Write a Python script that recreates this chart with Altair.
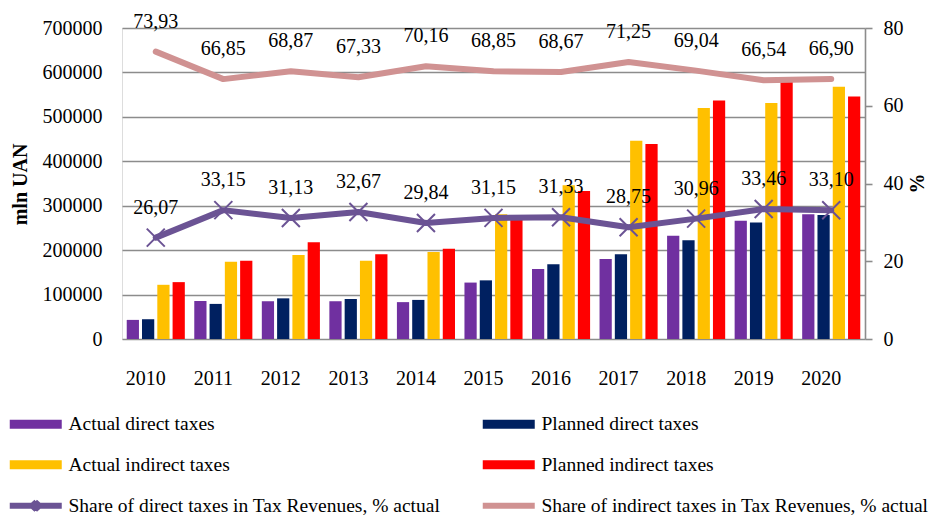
import altair as alt
import pandas as pd

years = ["2010", "2011", "2012", "2013", "2014", "2015", "2016", "2017", "2018", "2019", "2020"]
actual_direct = [43000, 85500, 85000, 85000, 83000, 127000, 157500, 180000, 232500, 266000, 281000]
planned_direct = [44500, 79000, 91500, 90000, 88000, 132000, 168000, 191000, 222000, 262500, 279000]
actual_indirect = [122000, 174000, 189000, 176000, 196000, 281000, 346000, 446000, 520000, 531000, 568000]
planned_indirect = [128000, 176000, 218000, 191000, 203000, 272000, 333000, 439000, 537000, 579000, 546000]
share_direct = [26.07, 33.15, 31.13, 32.67, 29.84, 31.15, 31.33, 28.75, 30.96, 33.46, 33.10]
share_indirect = [73.93, 66.85, 68.87, 67.33, 70.16, 68.85, 68.67, 71.25, 69.04, 66.54, 66.90]

bar_series = ["Actual direct taxes", "Planned direct taxes", "Actual indirect taxes", "Planned indirect taxes"]
line_series = ["Share of direct taxes in Tax Revenues, % actual",
               "Share of indirect taxes in Tax Revenues, % actual"]
all_series = bar_series + line_series

bar_colors = ["#7030A0", "#002060", "#FFC000", "#FF0000"]
line_colors = ["#6B5394", "#D09292"]

FONT = "Liberation Serif"

bars_df = pd.DataFrame(
    [(y, s, v) for s, vals in zip(bar_series, [actual_direct, planned_direct, actual_indirect, planned_indirect])
     for y, v in zip(years, vals)],
    columns=["year", "series", "value"])
lines_df = pd.DataFrame(
    [(y, s, v) for s, vals in zip(line_series, [share_direct, share_indirect])
     for y, v in zip(years, vals)],
    columns=["year", "series", "value"])
legend_df = pd.DataFrame({"series": all_series})

# legend symbol paths (unit = 5 px)
rect_path = "M-1,-0.9H9.4V0.9H-1Z"
direct_path = "M-1,0H9.4M3.5,-0.8L4.9,0.8M3.5,0.8L4.9,-0.8"
indirect_path = "M-1,0H9.4"

fill_scale = alt.Scale(domain=all_series, range=bar_colors + ["transparent", "transparent"])
stroke_scale = alt.Scale(domain=all_series, range=["transparent"] * 4 + line_colors)
shape_scale = alt.Scale(domain=all_series, range=[rect_path] * 4 + [direct_path, indirect_path])


def legend_cfg():
    return alt.Legend(orient="none", legendX=-117, legendY=386, columns=2, columnPadding=29,
                      direction="horizontal", rowPadding=7, symbolSize=100, symbolStrokeWidth=6,
                      labelFont=FONT, labelFontSize=19.5, labelColor="black", labelOffset=44,
                      title=None, labelLimit=600)


def x_enc():
    return alt.X("year:N", sort=years,
                 scale=alt.Scale(paddingInner=0.14, paddingOuter=0.07),
                 axis=alt.Axis(title=None, domain=False, ticks=False, labelFont=FONT, labelFontSize=20,
                               labelColor="black", labelPadding=29, labelOffset=-10, labelAngle=0))


def y_right():
    return alt.Y("value:Q", scale=alt.Scale(domain=[0, 80], nice=False),
                 axis=alt.Axis(orient="right", title="%", titleFont=FONT, titleFontSize=20,
                               titleFontWeight="bold", titleColor="black", titleX=52, titleY=155,
                               titleAngle=270, titleBaseline="middle", titleAlign="center",
                               values=[0, 20, 40, 60, 80], grid=False, domain=True,
                               domainColor="#8C8C8C", domainWidth=1.6, ticks=True, tickSize=7,
                               tickColor="#8C8C8C", tickWidth=1.6, labelFont=FONT, labelFontSize=20,
                               labelColor="black", labelPadding=11))


legend_layer = alt.Chart(legend_df).mark_point(filled=True, opacity=1, strokeWidth=6).encode(
    fill=alt.Fill("series:N", scale=fill_scale, legend=legend_cfg()),
    stroke=alt.Stroke("series:N", scale=stroke_scale, legend=legend_cfg()),
    shape=alt.Shape("series:N", scale=shape_scale, legend=legend_cfg()),
).transform_filter("false")

bars = alt.Chart(bars_df).mark_bar().encode(
    x=x_enc(),
    xOffset=alt.XOffset("series:N", sort=bar_series,
                        scale=alt.Scale(paddingInner=0.2, paddingOuter=0)),
    y=alt.Y("value:Q", scale=alt.Scale(domain=[0, 700000], nice=False),
            axis=alt.Axis(title="mln UAN", titleFont=FONT, titleFontSize=20, titleFontWeight="bold",
                          titleColor="black", titleX=-102, titleY=156, titleAngle=270,
                          titleBaseline="middle", titleAlign="center",
                          values=[0, 100000, 200000, 300000, 400000, 500000, 600000, 700000],
                          format="d", domain=False, ticks=False, labelFont=FONT, labelFontSize=20,
                          labelColor="black", labelPadding=20, grid=True, gridColor="#8C8C8C",
                          gridWidth=1.6)),
    fill=alt.Fill("series:N", scale=fill_scale, legend=legend_cfg()),
)

lines = alt.Chart(lines_df).mark_line(strokeWidth=6, strokeCap="round", strokeJoin="round").encode(
    x=x_enc(),
    y=y_right(),
    stroke=alt.Stroke("series:N", scale=stroke_scale, legend=legend_cfg()),
    detail="series:N",
)

markers = alt.Chart(lines_df).transform_filter(
    alt.datum.series == line_series[0]
).mark_point(shape="M-1,-1L1,1M-1,1L1,-1", size=324, strokeWidth=2, filled=False, opacity=1,
             color=line_colors[0]).encode(
    x=x_enc(),
    y=y_right(),
)

labels = alt.Chart(lines_df).transform_calculate(
    label="replace(format(datum.value, '.2f'), '.', ',')"
).mark_text(font=FONT, fontSize=20, color="black", dy=-30, baseline="middle").encode(
    x=x_enc(),
    y=y_right(),
    text="label:N",
)

right = alt.layer(lines, markers, labels)

chart = alt.layer(legend_layer, bars, right).resolve_scale(y="independent").properties(
    width=743, height=311,
    autosize=alt.AutoSizeParams(type="none"),
    padding={"left": 114, "top": 20, "right": 64, "bottom": 176},
).configure_view(stroke=None).configure(background="white")

chart.save("out.html", embed_options={"renderer": "svg", "actions": False})
